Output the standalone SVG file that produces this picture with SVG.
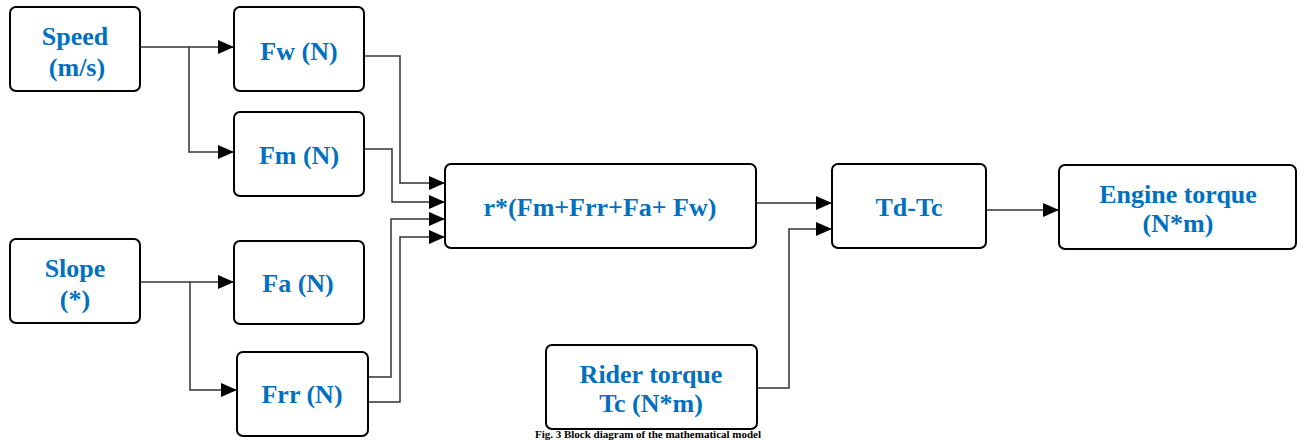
<svg xmlns="http://www.w3.org/2000/svg" width="1300" height="440" viewBox="0 0 1300 440">
<defs>
<style>
.box{fill:#fff;stroke:#000;stroke-width:2}
.lbl{font-family:"Liberation Serif","Times New Roman",serif;font-weight:bold;font-size:26px;fill:#0070C0;text-anchor:middle}
.ln{fill:none;stroke:#333;stroke-width:1.5}
.cap{font-family:"Liberation Serif","Times New Roman",serif;font-weight:bold;font-size:11px;fill:#000;text-anchor:middle}
</style>
<marker id="ah" markerWidth="16" markerHeight="14" refX="16" refY="7" orient="auto" markerUnits="userSpaceOnUse">
<path d="M0,0 L16,7 L0,14 Z" fill="#000"/>
</marker>
</defs>
<rect width="1300" height="440" fill="#fff"/>
<g id="connectors">
<path class="ln" d="M140,47 H234" marker-end="url(#ah)"/>
<path class="ln" d="M189,47 V152 H234" marker-end="url(#ah)"/>
<path class="ln" d="M140,282 H234" marker-end="url(#ah)"/>
<path class="ln" d="M190,282 V390 H237" marker-end="url(#ah)"/>
<path class="ln" d="M364,56 H400 V183 H445" marker-end="url(#ah)"/>
<path class="ln" d="M364,149 H392 V202 H445" marker-end="url(#ah)"/>
<path class="ln" d="M368,377 H391 V219 H445" marker-end="url(#ah)"/>
<path class="ln" d="M368,402 H400 V237 H445" marker-end="url(#ah)"/>
<path class="ln" d="M756,203 H832" marker-end="url(#ah)"/>
<path class="ln" d="M757,388 H789 V229 H832" marker-end="url(#ah)"/>
<path class="ln" d="M986,210 H1059" marker-end="url(#ah)"/>
</g>
<g id="speed"><rect class="box" x="10" y="7" width="130" height="84" rx="6"/><text class="lbl" x="75" y="45">Speed</text><text class="lbl" x="77" y="76">(m/s)</text></g>
<g id="fw"><rect class="box" x="234" y="7" width="130" height="84" rx="6"/><text class="lbl" x="299" y="60">Fw (N)</text></g>
<g id="fm"><rect class="box" x="234" y="112" width="130" height="84" rx="6"/><text class="lbl" x="299" y="164">Fm (N)</text></g>
<g id="slope"><rect class="box" x="10" y="239" width="130" height="84" rx="6"/><text class="lbl" x="75" y="277">Slope</text><text class="lbl" x="75" y="308">(*)</text></g>
<g id="fa"><rect class="box" x="234" y="241" width="130" height="83" rx="6"/><text class="lbl" x="298" y="292">Fa (N)</text></g>
<g id="frr"><rect class="box" x="237" y="352" width="131" height="84" rx="6"/><text class="lbl" x="302" y="403">Frr (N)</text></g>
<g id="sum"><rect class="box" x="445" y="164" width="311" height="84" rx="6"/><text class="lbl" x="600" y="216">r*(Fm+Frr+Fa+ Fw)</text></g>
<g id="tdtc"><rect class="box" x="832" y="164" width="154" height="84" rx="6"/><text class="lbl" x="909" y="216">Td-Tc</text></g>
<g id="engine"><rect class="box" x="1059" y="165" width="237" height="84" rx="6"/><text class="lbl" x="1178" y="203">Engine torque</text><text class="lbl" x="1178" y="232">(N*m)</text></g>
<g id="rider"><rect class="box" x="546" y="345" width="211" height="84" rx="6"/><text class="lbl" x="651" y="383">Rider torque</text><text class="lbl" x="651" y="412">Tc (N*m)</text></g>
<text class="cap" x="648" y="438">Fig. 3 Block diagram of the mathematical model</text>
</svg>
